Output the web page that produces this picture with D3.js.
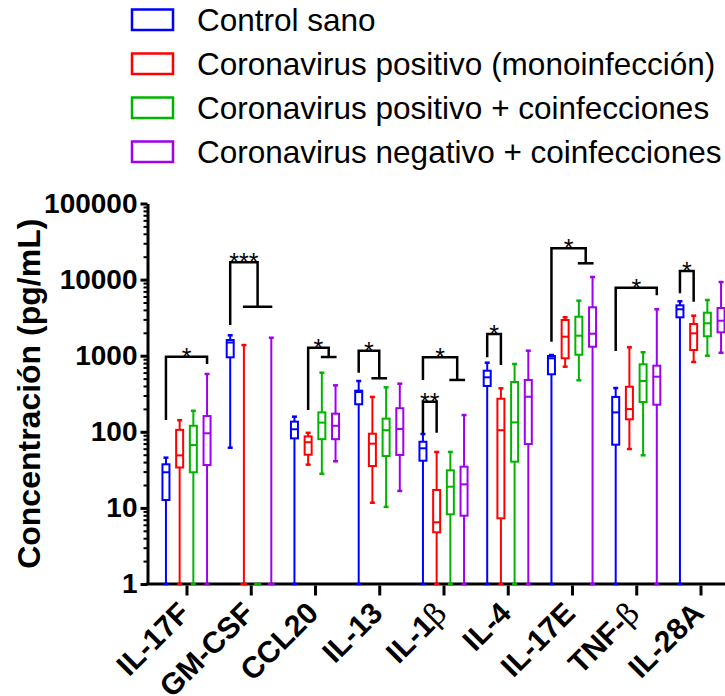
<!DOCTYPE html>
<html>
<head>
<meta charset="utf-8">
<script src="https://cdn.jsdelivr.net/npm/d3@7"></script>
<style>
  body { margin: 0; background: #fff; }
  svg { display: block; }
  text { font-family: "Liberation Sans", Arial, sans-serif; fill: #000; }
</style>
</head>
<body>
<svg id="chart" width="725" height="696"></svg>
<script>
// Cytokines on the x axis
const categories = ["IL-17F", "GM-CSF", "CCL20", "IL-13", "IL-1β", "IL-4", "IL-17E", "TNF-β", "IL-28A"];

// Study groups
const seriesNames = [
  "Control sano",
  "Coronavirus positivo (monoinfección)",
  "Coronavirus positivo + coinfecciones",
  "Coronavirus negativo + coinfecciones"
];
const seriesColors = ["#0000ff", "#ff0000", "#00b400", "#a000f0"];

// Box summaries per cytokine: [min, q1, median, q3, max] in pg/mL
// (1 = at or below the lower limit of the axis)
const controlSano = [
  [1, 12.7, 29.4, 37.4, 45.7],
  [61.8, 953, 1490, 1607, 1854],
  [1, 82, 108, 136, 158],
  [1, 230, 333, 347, 465],
  [1, 41.7, 60.7, 74, 93.5],
  [1, 400, 520, 635, 809],
  [1, 570, 925, 991, 1021],
  [1, 67.7, 180, 287, 376],
  [1, 3197, 4074, 4592, 5188]
];
const covidMono = [
  [1, 34, 49, 106, 142],
  [1, 1, 1, 1, 1381],
  [37, 50, 73, 87, 97],
  [11.7, 35.5, 69.8, 94.4, 287],
  [1, 4.78, 6.47, 17.2, 54.3],
  [1, 7.3, 105, 272, 373],
  [717, 925, 1778, 2946, 3197],
  [59.4, 146, 199, 391, 1289],
  [826, 1188, 1968, 2610, 3357]
];
const covidCoinf = [
  [1, 29.4, 67, 120, 189],
  [1, 1, 1, 1, 1],
  [28.1, 80, 132, 180, 598],
  [10.3, 48, 105, 149, 384],
  [1, 8.24, 19, 31.2, 54.3],
  [1, 40.5, 133, 451, 778],
  [475, 1030, 1833, 3252, 5284],
  [49.1, 246, 465, 771, 1109],
  [1000, 1799, 2666, 3673, 5395]
];
const negCoinf = [
  [1, 36.6, 95.6, 161, 575],
  [1, 1, 1, 1, 1723],
  [41, 80, 120, 173, 408],
  [16.7, 49.6, 109, 204, 429],
  [1, 7.9, 20.4, 34.8, 166],
  [1, 69, 289, 480, 1164],
  [1, 1312, 1945, 4325, 10820],
  [1, 227, 530, 739, 4074],
  [1094, 2028, 2884, 4236, 9290]
];
const seriesValues = [controlSano, covidMono, covidCoinf, negCoinf];

const yTickValues = [1, 10, 100, 1000, 10000, 100000];

// Significance brackets: left leg on series `from`, right leg on series `to`
// or on the middle of a bar spanning series `bar`; heights in pg/mL
const brackets = [
  { cat: "IL-17F", from: 0, to: 3, lowFrom: 143, top: 970, lowTo: 778, label: "*" },
  { cat: "GM-CSF", from: 0, bar: [1, 3], lowFrom: 2530, top: 16870, lowTo: 4400, label: "***" },
  { cat: "CCL20", from: 1, bar: [2, 3], lowFrom: 193, top: 1274, lowTo: 961, label: "*" },
  { cat: "IL-13", from: 0, bar: [1, 2], lowFrom: 598, top: 1163, lowTo: 505, label: "*" },
  { cat: "IL-1β", from: 0, to: 1, lowFrom: 95.6, top: 249, lowTo: 97.3, label: "**" },
  { cat: "IL-1β", from: 0, bar: [2, 3], lowFrom: 480, top: 953, lowTo: 480, label: "*" },
  { cat: "IL-4", from: 0, to: 1, lowFrom: 953, top: 1928, lowTo: 755, label: "*" },
  { cat: "IL-17E", from: 0, bar: [2, 3], lowFrom: 1528, top: 25770, lowTo: 16370, label: "*" },
  { cat: "TNF-β", from: 0, to: 3, lowFrom: 1153, top: 7830, lowTo: 6220, label: "*" },
  { cat: "IL-28A", from: 0, to: 1, lowFrom: 6610, top: 12970, lowTo: 5130, label: "*" }
];

// ---- layout ----
const W = 725, H = 696;
const axisX = 147.5;
const svg = d3.select("#chart");

const y = d3.scaleLog().domain([1, 100000]).range([584, 203.5]).clamp(true);
const x = d3.scalePoint().domain(categories).range([186.5, 700.5]);
const xs = d3.scalePoint().domain(d3.range(seriesNames.length)).range([-20.55, 20.55]);

const boxW = 9, capW = 5;

// ---- y axis ----
const minorTicks = [];
for (let e = 0; e < 5; e++) for (let m = 2; m <= 9; m++) minorTicks.push(m * Math.pow(10, e));

const gMinor = svg.append("g").attr("transform", `translate(${axisX},0)`)
  .call(d3.axisLeft(y).tickValues(minorTicks).tickSize(4).tickFormat(""));
gMinor.select(".domain").remove();
gMinor.selectAll(".tick line").attr("stroke", "#000").attr("stroke-width", 2);

const gy = svg.append("g").attr("transform", `translate(${axisX},0)`)
  .call(d3.axisLeft(y).tickValues(yTickValues).tickFormat(d3.format("d"))
    .tickSize(7).tickSizeOuter(0).tickPadding(3));
gy.select(".domain").attr("stroke", "#000").attr("stroke-width", 3);
gy.selectAll(".tick line").attr("stroke", "#000").attr("stroke-width", 3);
gy.selectAll(".tick text")
  .style("font-family", "'Liberation Sans', Arial, sans-serif")
  .style("font-size", "28px").style("font-weight", "bold").attr("fill", "#000");

svg.append("text")
  .attr("transform", `translate(40,${(y(1) + y(100000)) / 2}) rotate(-90)`)
  .attr("text-anchor", "middle")
  .style("font-size", "32px").style("font-weight", "bold")
  .text("Concentración (pg/mL)");

// ---- x axis ----
svg.append("line")
  .attr("x1", axisX - 1.5).attr("x2", W)
  .attr("y1", y(1)).attr("y2", y(1))
  .attr("stroke", "#000").attr("stroke-width", 3);

const gx = svg.append("g").attr("transform", `translate(0,${y(1) + 1.5})`)
  .call(d3.axisBottom(x).tickSize(10).tickFormat(""));
gx.select(".domain").remove();
gx.selectAll(".tick line").attr("stroke", "#000").attr("stroke-width", 3);

const xl = svg.append("g").selectAll("text").data(categories).join("text")
  .attr("transform", d => `translate(${x(d) + 5},615) rotate(-45)`)
  .attr("text-anchor", "end")
  .style("font-size", "30px").style("font-weight", "bold");
xl.each(function (d) {
  const t = d3.select(this);
  const parts = d.split("β");
  t.append("tspan").text(parts[0]);
  if (parts.length > 1) {
    t.append("tspan").text("β")
      .style("font-family", "'DejaVu Serif', 'Liberation Serif', serif")
      .style("font-weight", "normal");
  }
});

// ---- boxes ----
const boxes = [];
seriesValues.forEach((vals, s) => {
  vals.forEach((v, i) => boxes.push({ s, cat: categories[i], min: v[0], q1: v[1], med: v[2], q3: v[3], max: v[4] }));
});

const gb = svg.append("g").selectAll("g").data(boxes).join("g")
  .attr("transform", d => `translate(${x(d.cat) + xs(d.s)},0)`)
  .attr("stroke", d => seriesColors[d.s])
  .attr("stroke-width", 2)
  .attr("fill", "none");

gb.append("line").attr("x1", 0).attr("x2", 0)
  .attr("y1", d => y(d.min)).attr("y2", d => y(d.max));
gb.append("line").attr("x1", -capW / 2).attr("x2", capW / 2)
  .attr("y1", d => y(d.max)).attr("y2", d => y(d.max)).attr("stroke-width", 2.5);
gb.append("line").attr("x1", -capW / 2).attr("x2", capW / 2)
  .attr("y1", d => y(d.min)).attr("y2", d => y(d.min)).attr("stroke-width", 2.5);
gb.append("rect")
  .attr("x", -boxW / 2 + 1).attr("width", boxW - 2)
  .attr("y", d => y(d.q3)).attr("height", d => Math.max(0, y(d.q1) - y(d.q3)))
  .attr("fill", "#fff");
gb.append("line").attr("x1", -boxW / 2 + 1).attr("x2", boxW / 2 - 1)
  .attr("y1", d => y(d.med)).attr("y2", d => y(d.med));

// ---- significance brackets ----
const gs = svg.append("g").selectAll("g").data(brackets).join("g");
gs.each(function (b) {
  const g = d3.select(this);
  const cx = x(b.cat);
  const xL = cx + xs(b.from);
  const xR = b.bar ? cx + (xs(b.bar[0]) + xs(b.bar[1])) / 2 : cx + xs(b.to);
  g.append("path")
    .attr("d", `M${xL},${y(b.lowFrom)}V${y(b.top)}H${xR}V${y(b.lowTo)}`)
    .attr("fill", "none").attr("stroke", "#000").attr("stroke-width", 2.5);
  if (b.bar) {
    g.append("line")
      .attr("x1", cx + xs(b.bar[0]) - 1).attr("x2", cx + xs(b.bar[1]) + 1)
      .attr("y1", y(b.lowTo)).attr("y2", y(b.lowTo))
      .attr("stroke", "#000").attr("stroke-width", 2.5);
  }
  g.append("text")
    .attr("x", (xL + xR) / 2).attr("y", y(b.top) + 9)
    .attr("text-anchor", "middle")
    .style("font-size", "25px")
    .text(b.label);
});

// ---- legend ----
const lg = svg.append("g").selectAll("g").data(seriesNames).join("g")
  .attr("transform", (d, i) => `translate(0,${i * 44})`);
lg.append("rect")
  .attr("x", 132).attr("y", 9.5).attr("width", 41).attr("height", 20.5)
  .attr("fill", "none").attr("stroke-width", 2.5)
  .attr("stroke", (d, i) => seriesColors[i]);
lg.append("text")
  .attr("x", 197).attr("y", 30.5)
  .style("font-size", "31.5px")
  .text(d => d);
</script>
</body>
</html>
